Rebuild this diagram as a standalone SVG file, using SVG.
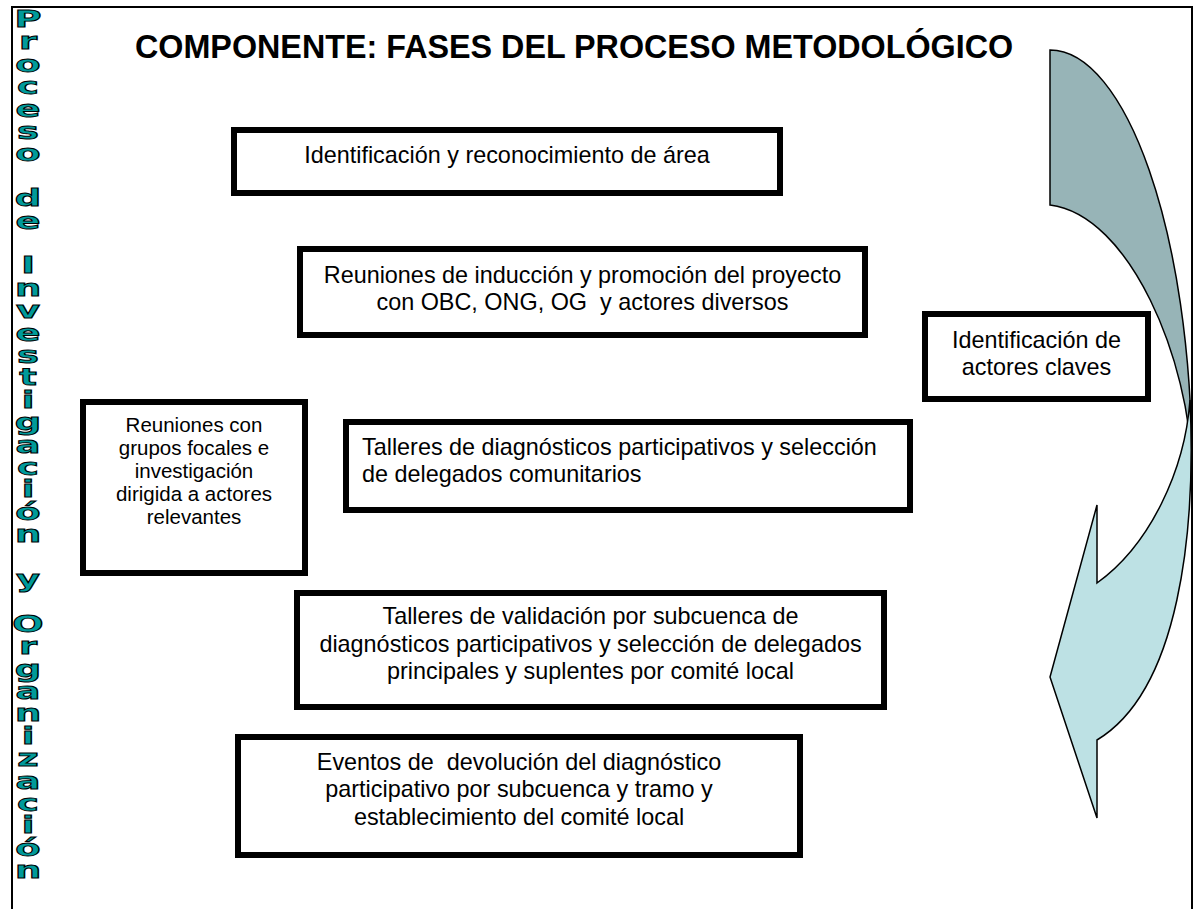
<svg xmlns="http://www.w3.org/2000/svg" width="1196" height="909" viewBox="0 0 1196 909">
<style>
  .frame{stroke:#000;stroke-width:2;fill:none}
  .box{fill:#fff;stroke:#000;stroke-width:6}
  .t{font-family:"Liberation Sans",Arial,sans-serif;font-size:23.4px;fill:#000}
  .c{text-anchor:middle}
  .small{font-size:20.5px}
  .title{font-family:"Liberation Sans",Arial,sans-serif;font-size:32.3px;font-weight:bold;fill:#000}
  .vert{font-family:"DejaVu Sans",sans-serif;font-weight:bold;font-size:23px;fill:#009a9a;stroke:#000;stroke-width:0.9;text-anchor:middle}
  .back{fill:#97b4b7;stroke:#000;stroke-width:1.5}
  .front{fill:#bde1e4;stroke:#000;stroke-width:1.5}
</style>
<rect width="1196" height="909" fill="#fff"/>
<g id="frame">
  <path class="frame" d="M12,909 V7 H1192 V909"/>
</g>
<g id="side-label" transform="translate(28,0) scale(1.6,1)">
  <text class="vert"><tspan x="0" y="27">P</tspan><tspan x="0" y="49.4">r</tspan><tspan x="0" y="71.8">o</tspan><tspan x="0" y="94.2">c</tspan><tspan x="0" y="116.6">e</tspan><tspan x="0" y="139">s</tspan><tspan x="0" y="161.4">o</tspan><tspan x="0" y="206.2">d</tspan><tspan x="0" y="228.6">e</tspan><tspan x="0" y="273.4">I</tspan><tspan x="0" y="295.8">n</tspan><tspan x="0" y="318.2">v</tspan><tspan x="0" y="340.6">e</tspan><tspan x="0" y="363">s</tspan><tspan x="0" y="385.4">t</tspan><tspan x="0" y="407.8">i</tspan><tspan x="0" y="430.2">g</tspan><tspan x="0" y="452.6">a</tspan><tspan x="0" y="475">c</tspan><tspan x="0" y="497.4">i</tspan><tspan x="0" y="519.8">ó</tspan><tspan x="0" y="542.2">n</tspan><tspan x="0" y="587">y</tspan><tspan x="0" y="631.8">O</tspan><tspan x="0" y="654.2">r</tspan><tspan x="0" y="676.6">g</tspan><tspan x="0" y="699">a</tspan><tspan x="0" y="721.4">n</tspan><tspan x="0" y="743.8">i</tspan><tspan x="0" y="766.2">z</tspan><tspan x="0" y="788.6">a</tspan><tspan x="0" y="811">c</tspan><tspan x="0" y="833.4">i</tspan><tspan x="0" y="855.8">ó</tspan><tspan x="0" y="878.2">n</tspan></text>
</g>
<g id="title">
  <text class="title" x="135" y="58">COMPONENTE: FASES DEL PROCESO METODOLÓGICO</text>
</g>
<g id="connectors">
  <path class="back" d="M1050,50 C1125,50 1192,230 1192,470 C1190,360 1130,215 1050,205 Z"/>
  <path class="front" d="M1097,583 C1150,545 1185,470 1190,400 C1196,530 1180,690 1097,740 L1097,818 L1050,677 L1097,505 Z"/>
</g>
<g id="node-identificacion-area">
  <rect class="box" x="234" y="130" width="546" height="63"/>
  <text class="t c" x="507" y="163">Identificación y reconocimiento de área</text>
</g>
<g id="node-reuniones-induccion">
  <rect class="box" x="300" y="249" width="565" height="86"/>
  <text class="t c" xml:space="preserve"><tspan x="582.5" y="283">Reuniones de inducción y promoción del proyecto</tspan><tspan x="582.5" y="310">con OBC, ONG, OG  y actores diversos</tspan></text>
</g>
<g id="node-actores-claves">
  <rect class="box" x="925" y="314" width="223" height="85"/>
  <text class="t c"><tspan x="1036.5" y="348">Identificación de</tspan><tspan x="1036.5" y="375">actores claves</tspan></text>
</g>
<g id="node-grupos-focales">
  <rect class="box" x="83" y="402" width="222" height="171"/>
  <text class="t c small"><tspan x="194" y="432">Reuniones con</tspan><tspan x="194" y="455">grupos focales e</tspan><tspan x="194" y="478">investigación</tspan><tspan x="194" y="501">dirigida a actores</tspan><tspan x="194" y="524">relevantes</tspan></text>
</g>
<g id="node-talleres-diagnostico">
  <rect class="box" x="346" y="422" width="564" height="88"/>
  <text class="t"><tspan x="362" y="455">Talleres de diagnósticos participativos y selección</tspan><tspan x="362" y="482">de delegados comunitarios</tspan></text>
</g>
<g id="node-talleres-validacion">
  <rect class="box" x="297" y="593" width="587" height="114"/>
  <text class="t c"><tspan x="590.5" y="624">Talleres de validación por subcuenca de</tspan><tspan x="590.5" y="652">diagnósticos participativos y selección de delegados</tspan><tspan x="590.5" y="679">principales y suplentes por comité local</tspan></text>
</g>
<g id="node-eventos-devolucion">
  <rect class="box" x="238" y="737" width="562" height="118"/>
  <text class="t c" xml:space="preserve"><tspan x="519" y="770">Eventos de  devolución del diagnóstico</tspan><tspan x="519" y="797">participativo por subcuenca y tramo y</tspan><tspan x="519" y="825">establecimiento del comité local</tspan></text>
</g>
</svg>
